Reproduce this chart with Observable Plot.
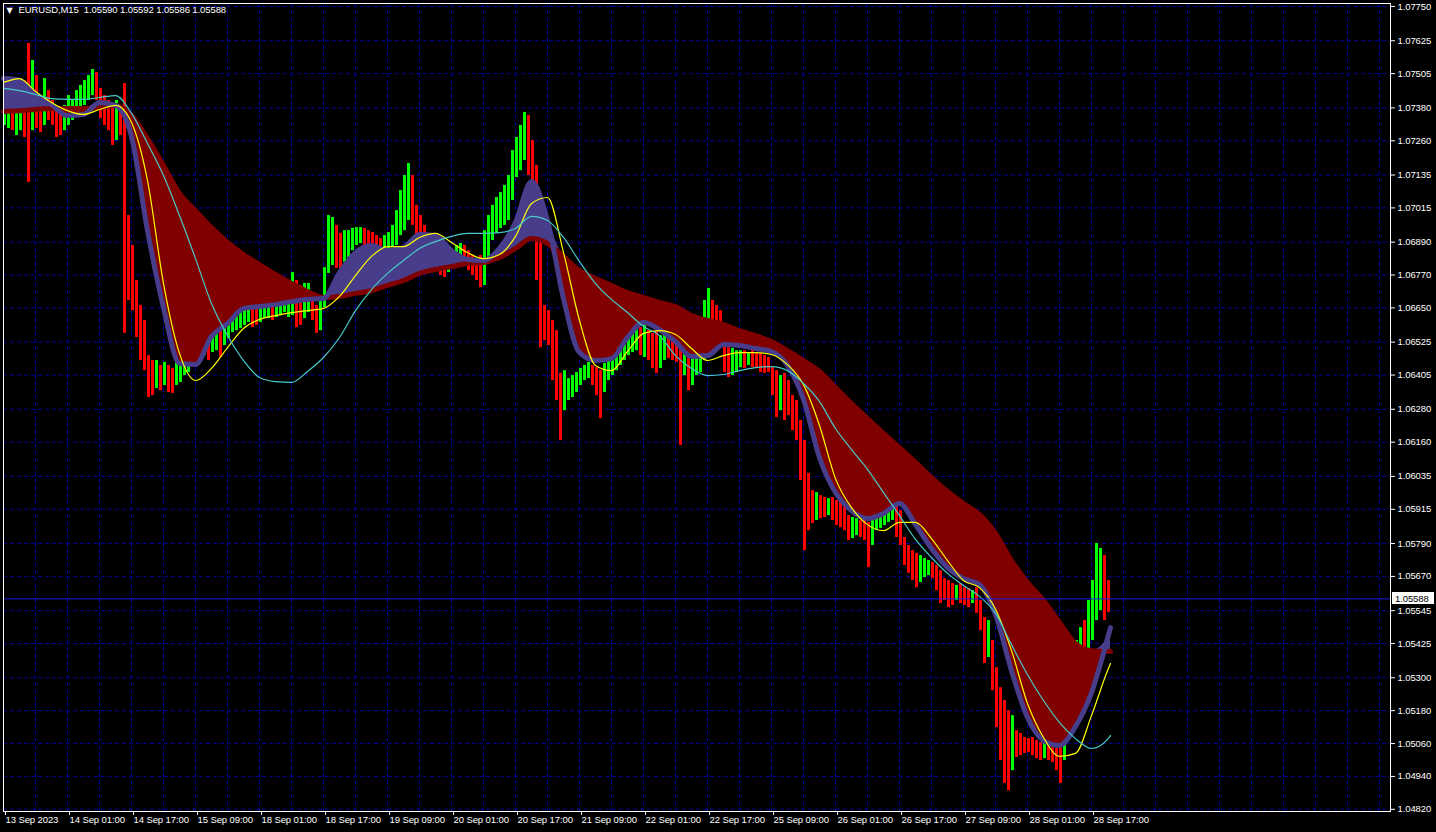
<!DOCTYPE html>
<html><head><meta charset="utf-8">
<script src="https://cdn.jsdelivr.net/npm/d3@7"></script>
<script src="https://cdn.jsdelivr.net/npm/@observablehq/plot@0.6"></script>
<style>
html,body{margin:0;padding:0;background:#000;}
#chart{width:1436px;height:832px;overflow:hidden;}
</style></head><body><div id="chart"></div>
<script>
// ---------- data ----------
const symbolTitle = "EURUSD,M15  1.05590 1.05592 1.05586 1.05588";
const lastPrice = 1.05588;

const yTickValues = [1.07750,1.07625,1.07505,1.07380,1.07260,1.07135,1.07015,1.06890,1.06770,1.06650,1.06525,1.06405,1.06280,1.06160,1.06035,1.05915,1.05790,1.05670,1.05545,1.05425,1.05300,1.05180,1.05060,1.04940,1.04820];

// bar index (M15 bars) of the time labels
const xTickIndex = [0,64,128,192,256,320,384,448,512,576,640,704,768,832,896,960,1024,1088];
const xTickLabels = ["13 Sep 2023","14 Sep 01:00","14 Sep 17:00","15 Sep 09:00","18 Sep 01:00","18 Sep 17:00","19 Sep 09:00","20 Sep 01:00","20 Sep 17:00","21 Sep 09:00","22 Sep 01:00","22 Sep 17:00","25 Sep 09:00","26 Sep 01:00","26 Sep 17:00","27 Sep 09:00","28 Sep 01:00","28 Sep 17:00"];

// hourly high / low (each hour = 4 M15 bars)
const barHigh = [
1.07389,1.07407,1.07414,1.07443,1.07462,1.07480,1.07615,1.07553,1.07498,1.07425,
1.07487,1.07443,1.07407,1.07370,1.07360,1.07389,1.07425,1.07407,1.07443,1.07462,
1.07480,1.07498,1.07520,1.07509,1.07451,1.07425,1.07407,1.07389,1.07407,1.07370,
1.07469,1.06987,1.06878,1.06750,1.06659,1.06604,1.06476,1.06458,1.06458,1.06440,
1.06451,1.06440,1.06429,1.06458,1.06451,1.06476,1.06513,1.06531,1.06538,1.06549,
1.06560,1.06549,1.06567,1.06575,1.06586,1.06597,1.06611,1.06622,1.06633,1.06648,
1.06659,1.06666,1.06659,1.06648,1.06659,1.06666,1.06677,1.06670,1.06677,1.06684,
1.06695,1.06713,1.06779,1.06750,1.06732,1.06739,1.06739,1.06677,1.06659,1.06677,
1.06797,1.06987,1.06980,1.06951,1.06922,1.06932,1.06932,1.06940,1.06943,1.06943,
1.06940,1.06932,1.06925,1.06914,1.06903,1.06914,1.06925,1.06951,1.07005,1.07078,
1.07133,1.07177,1.07133,1.07024,1.06987,1.06951,1.06914,1.06878,1.06859,1.06841,
1.06830,1.06841,1.06859,1.06878,1.06885,1.06878,1.06859,1.06841,1.06823,1.06841,
1.06932,1.06987,1.07024,1.07053,1.07071,1.07097,1.07133,1.07224,1.07272,1.07316,
1.07363,1.07352,1.07261,1.07170,1.06896,1.06659,1.06640,1.06604,1.06567,1.06411,
1.06421,1.06392,1.06403,1.06414,1.06429,1.06440,1.06451,1.06440,1.06432,1.06421,
1.06447,1.06458,1.06476,1.06494,1.06513,1.06531,1.06549,1.06567,1.06578,1.06578,
1.06586,1.06567,1.06557,1.06567,1.06549,1.06557,1.06549,1.06538,1.06531,1.06505,
1.06494,1.06476,1.06469,1.06469,1.06476,1.06677,1.06721,1.06677,1.06659,1.06640,
1.06513,1.06505,1.06502,1.06494,1.06494,1.06494,1.06487,1.06494,1.06487,1.06484,
1.06476,1.06469,1.06432,1.06421,1.06403,1.06411,1.06385,1.06330,1.06312,1.06239,
1.06166,1.06046,1.05983,1.05976,1.05965,1.05958,1.05954,1.05958,1.05947,1.05947,
1.05929,1.05892,1.05885,1.05881,1.05874,1.05874,1.05867,1.05881,1.05903,1.05918,
1.05929,1.05936,1.05947,1.05936,1.05910,1.05812,1.05783,1.05764,1.05754,1.05746,
1.05735,1.05728,1.05721,1.05710,1.05691,1.05662,1.05655,1.05644,1.05637,1.05644,
1.05629,1.05626,1.05618,1.05629,1.05582,1.05520,1.05509,1.05436,1.05337,1.05264,
1.05217,1.05180,1.05162,1.05107,1.05097,1.05082,1.05078,1.05082,1.05071,1.05064,
1.05060,1.05053,1.05045,1.05042,1.05053,1.05144,1.05253,1.05363,1.05436,1.05483,
1.05509,1.05582,1.05655,1.05790,1.05772,1.05746,1.05655];
const barLow = [
1.07316,1.07305,1.07297,1.07279,1.07297,1.07272,1.07108,1.07297,1.07305,1.07290,
1.07316,1.07334,1.07316,1.07272,1.07279,1.07297,1.07316,1.07334,1.07352,1.07370,
1.07389,1.07407,1.07425,1.07407,1.07341,1.07316,1.07297,1.07243,1.07261,1.07279,
1.06557,1.06677,1.06640,1.06542,1.06458,1.06421,1.06323,1.06330,1.06356,1.06348,
1.06367,1.06341,1.06338,1.06367,1.06378,1.06403,1.06414,1.06440,1.06458,1.06465,
1.06476,1.06458,1.06487,1.06494,1.06469,1.06513,1.06538,1.06560,1.06567,1.06575,
1.06586,1.06597,1.06578,1.06586,1.06597,1.06611,1.06611,1.06604,1.06615,1.06622,
1.06633,1.06615,1.06622,1.06578,1.06586,1.06611,1.06633,1.06604,1.06557,1.06567,
1.06651,1.06776,1.06805,1.06794,1.06776,1.06816,1.06834,1.06859,1.06878,1.06885,
1.06878,1.06867,1.06859,1.06852,1.06852,1.06859,1.06867,1.06870,1.06878,1.06914,
1.06932,1.06969,1.06951,1.06914,1.06896,1.06859,1.06830,1.06805,1.06786,1.06768,
1.06761,1.06779,1.06794,1.06816,1.06823,1.06805,1.06786,1.06768,1.06750,1.06724,
1.06732,1.06823,1.06896,1.06922,1.06940,1.06951,1.06969,1.07042,1.07126,1.07151,
1.07188,1.07133,1.06896,1.06750,1.06505,1.06531,1.06513,1.06385,1.06312,1.06166,
1.06275,1.06312,1.06323,1.06341,1.06367,1.06385,1.06392,1.06367,1.06330,1.06246,
1.06341,1.06385,1.06403,1.06421,1.06440,1.06458,1.06476,1.06487,1.06494,1.06476,
1.06469,1.06458,1.06429,1.06411,1.06429,1.06458,1.06465,1.06458,1.06451,1.06148,
1.06403,1.06348,1.06367,1.06403,1.06414,1.06458,1.06593,1.06586,1.06567,1.06531,
1.06414,1.06396,1.06403,1.06414,1.06432,1.06429,1.06440,1.06432,1.06429,1.06414,
1.06411,1.06414,1.06330,1.06250,1.06275,1.06239,1.06257,1.06202,1.06166,1.06020,
1.05764,1.05837,1.05863,1.05874,1.05881,1.05885,1.05892,1.05874,1.05856,1.05848,
1.05837,1.05801,1.05808,1.05819,1.05812,1.05801,1.05702,1.05783,1.05837,1.05845,
1.05856,1.05867,1.05874,1.05812,1.05783,1.05710,1.05681,1.05655,1.05629,1.05648,
1.05666,1.05673,1.05662,1.05618,1.05571,1.05582,1.05556,1.05564,1.05582,1.05571,
1.05564,1.05556,1.05571,1.05535,1.05472,1.05352,1.05374,1.05253,1.05118,1.04998,
1.04914,1.04888,1.04961,1.05009,1.05016,1.05024,1.05027,1.05016,1.05005,1.04998,
1.05005,1.04998,1.04991,1.04961,1.04914,1.04998,1.05071,1.05180,1.05290,1.05326,
1.05170,1.05399,1.05436,1.05509,1.05545,1.05509,1.05538];

// moving averages, sampled every 16 M15 bars
const maIndex = [0,16,32,48,64,80,96,112,128,144,160,176,192,208,224,240,256,272,288,304,320,336,352,368,384,400,416,432,448,464,480,496,512,528,544,560,576,592,608,624,640,656,672,688,704,720,736,752,768,784,800,816,832,848,864,880,896,912,928,944,960,976,992,1008,1024,1040,1056,1072,1088,1104,1107];
const maFast = [
1.07487,1.07480,1.07432,1.07392,1.07352,1.07356,1.07400,1.07389,1.07276,1.06932,
1.06651,1.06447,1.06443,1.06546,1.06593,1.06648,1.06655,1.06662,1.06673,1.06681,
1.06684,1.06779,1.06852,1.06878,1.06859,1.06870,1.06918,1.06914,1.06859,1.06827,
1.06823,1.06867,1.06962,1.07111,1.06969,1.06684,1.06487,1.06458,1.06465,1.06542,
1.06597,1.06571,1.06527,1.06473,1.06476,1.06516,1.06513,1.06502,1.06491,1.06440,
1.06316,1.06104,1.05976,1.05910,1.05881,1.05900,1.05936,1.05859,1.05772,1.05702,
1.05662,1.05640,1.05531,1.05326,1.05155,1.05071,1.05053,1.05122,1.05246,1.05443,
1.05483];
const maSlow = [
1.07367,1.07370,1.07374,1.07378,1.07378,1.07378,1.07381,1.07389,1.07352,1.07268,
1.07170,1.07068,1.07005,1.06943,1.06889,1.06845,1.06808,1.06772,1.06739,1.06710,
1.06688,1.06692,1.06703,1.06713,1.06732,1.06750,1.06776,1.06790,1.06801,1.06812,
1.06816,1.06834,1.06867,1.06903,1.06885,1.06838,1.06786,1.06757,1.06732,1.06706,
1.06688,1.06670,1.06655,1.06622,1.06604,1.06589,1.06567,1.06549,1.06527,1.06494,
1.06458,1.06418,1.06359,1.06301,1.06246,1.06192,1.06140,1.06086,1.06031,1.05980,
1.05936,1.05896,1.05827,1.05728,1.05648,1.05582,1.05502,1.05425,1.05399,1.05396,
1.05396];
const maYellow = [
1.07473,1.07487,1.07440,1.07400,1.07370,1.07356,1.07374,1.07389,1.07327,1.07115,
1.06739,1.06484,1.06385,1.06429,1.06505,1.06575,1.06608,1.06622,1.06633,1.06640,
1.06648,1.06692,1.06768,1.06838,1.06874,1.06874,1.06907,1.06922,1.06889,1.06852,
1.06830,1.06845,1.06911,1.07031,1.07053,1.06852,1.06604,1.06440,1.06421,1.06491,
1.06557,1.06567,1.06553,1.06502,1.06458,1.06476,1.06487,1.06487,1.06480,1.06443,
1.06370,1.06221,1.06027,1.05921,1.05859,1.05837,1.05867,1.05867,1.05808,1.05728,
1.05655,1.05629,1.05550,1.05399,1.05206,1.05082,1.05013,1.05024,1.05162,1.05326,
1.05352];
const maCyan = [
1.07451,1.07443,1.07429,1.07414,1.07411,1.07411,1.07418,1.07425,1.07360,1.07250,
1.07133,1.06987,1.06830,1.06666,1.06549,1.06458,1.06396,1.06381,1.06378,1.06418,
1.06469,1.06542,1.06640,1.06717,1.06776,1.06823,1.06867,1.06892,1.06911,1.06922,
1.06922,1.06925,1.06940,1.06984,1.06969,1.06907,1.06819,1.06739,1.06681,1.06633,
1.06582,1.06549,1.06476,1.06429,1.06403,1.06407,1.06421,1.06432,1.06436,1.06421,
1.06374,1.06308,1.06210,1.06133,1.06061,1.05976,1.05892,1.05805,1.05739,1.05681,
1.05637,1.05597,1.05535,1.05421,1.05311,1.05217,1.05137,1.05078,1.05042,1.05075,
1.05089];

// ---------- build tables ----------
const bars = barHigh.map((h, k) => ({i: k * 4, high: h, low: barLow[k], mid: (h + barLow[k]) / 2}));
bars.forEach((b, k) => { b.up = k === 0 ? true : b.mid >= bars[k - 1].mid; });
const ma = maIndex.map((i, j) => ({i, fast: maFast[j], slow: maSlow[j], yellow: maYellow[j], cyan: maCyan[j]}));
const labelOf = new Map(xTickIndex.map((d, j) => [d, xTickLabels[j]]));
const vGrid = d3.range(32, 1387, 32);
const curve = "monotone-x";
const gridColor = "#00009c";
const fontFam = "'Liberation Sans', Arial, sans-serif";

const W = 1436, H = 832, mL = 3, mR = 46, mT = 3, mB = 21;

const plot = Plot.plot({
  width: W, height: H,
  marginLeft: mL, marginRight: mR, marginTop: mT, marginBottom: mB,
  style: {background: "#000", color: "#fff", fontFamily: fontFam, fontSize: "9.5px", letterSpacing: "-0.1px"},
  x: {type: "linear", domain: [0, 1387], label: null},
  y: {domain: [1.04812, 1.07761], label: null},
  marks: [
    Plot.ruleY(yTickValues, {stroke: gridColor, strokeDasharray: "4,3"}),
    Plot.ruleX(vGrid, {stroke: gridColor, strokeDasharray: "4,3"}),
    Plot.rect(bars.filter(d => d.up), {x1: "i", x2: d => d.i + 3, y1: "low", y2: "high", fill: "#00ff00"}),
    Plot.rect(bars.filter(d => !d.up), {x1: "i", x2: d => d.i + 3, y1: "low", y2: "high", fill: "#ff0000"}),
    Plot.areaY(ma, {x: "i", y1: d => Math.min(d.fast, d.slow), y2: "slow", fill: "#800000", curve}),
    Plot.areaY(ma, {x: "i", y1: "slow", y2: d => Math.max(d.fast, d.slow), fill: "#483d8b", curve}),
    Plot.line(ma, {x: "i", y: "slow", stroke: "#800000", strokeWidth: 5, curve}),
    Plot.line(ma, {x: "i", y: "fast", stroke: "#483d8b", strokeWidth: 5, curve}),
    Plot.line(ma, {x: "i", y: "yellow", stroke: "#ffff00", strokeWidth: 1.2, curve}),
    Plot.line(ma, {x: "i", y: "cyan", stroke: "#48c8c8", strokeWidth: 1.2, curve}),
    Plot.ruleY([lastPrice], {stroke: "#1a1ae0"}),
    Plot.frame({stroke: "#fff"}),
    Plot.axisY({ticks: yTickValues, anchor: "right", tickSize: 4, tickPadding: 3, tickFormat: d => d.toFixed(5), label: null}),
    Plot.axisX({ticks: xTickIndex, anchor: "bottom", tickSize: 4, tickPadding: 1, tickFormat: d => labelOf.get(d), textAnchor: "start", dx: 2, label: null}),
    Plot.text(["▼"], {text: d => d, frameAnchor: "top-left", dx: 3, dy: 4, lineAnchor: "top", textAnchor: "start", fontSize: 8, fill: "#fff", fontFamily: "'DejaVu Sans'"}),
    Plot.text([symbolTitle], {text: d => d, frameAnchor: "top-left", dx: 15, dy: 3, lineAnchor: "top", textAnchor: "start", fill: "#fff"})
  ]
});

// current price label on the right axis
const yPrice = plot.scale("y").apply(lastPrice);
const g = d3.select(plot).append("g");
g.append("rect").attr("x", W - mR + 2).attr("y", Math.round(yPrice) - 6).attr("width", 42).attr("height", 12).attr("fill", "#fff");
g.append("text").attr("x", W - mR + 5).attr("y", yPrice).attr("dy", "0.35em").attr("fill", "#000")
  .attr("text-anchor", "start")
  .attr("font-family", fontFam).attr("font-size", "9.5px").text(lastPrice.toFixed(5));

document.getElementById("chart").appendChild(plot);
</script>
</body></html>
